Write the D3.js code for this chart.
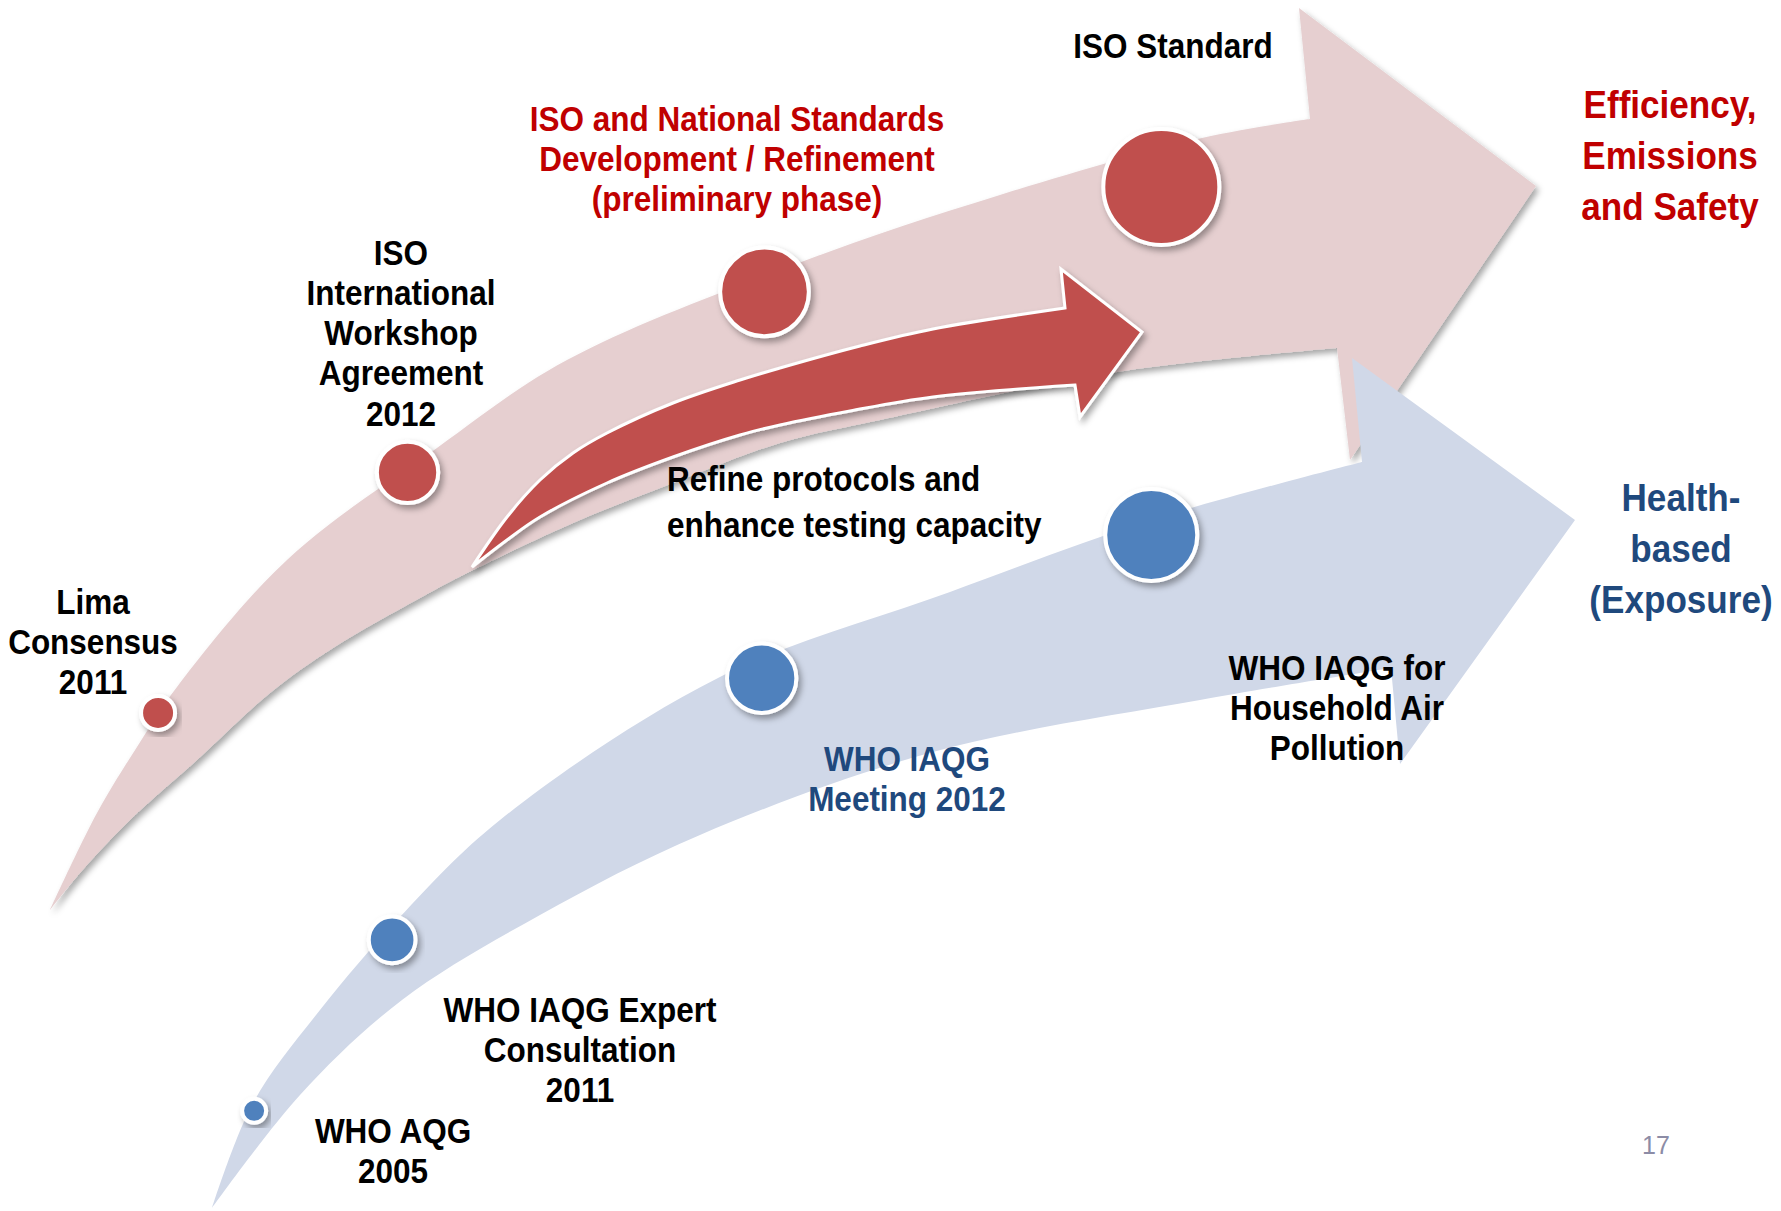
<!DOCTYPE html>
<html>
<head>
<meta charset="utf-8">
<script src="https://cdn.jsdelivr.net/npm/d3@7"></script>
<style>
  body { margin: 0; background: #fff; }
  svg text { font-family: "Liberation Sans", Arial, sans-serif; font-weight: bold; }
</style>
</head>
<body>
<div id="chart"></div>
<script>
var svgWidth = 1781;
var svgHeight = 1211;

// stove standards track (red)
var redLabels = [
  ["Lima", "Consensus", "2011"],
  ["ISO", "International", "Workshop", "Agreement", "2012"],
  ["ISO and National Standards", "Development / Refinement", "(preliminary phase)"],
  ["ISO Standard"]
];
var redStage = [1, 2, 3, 4];
var redProgress = [0.127, 0.360, 0.629, 0.905];

// health guidelines track (blue)
var blueLabels = [
  ["WHO AQG", "2005"],
  ["WHO IAQG Expert", "Consultation", "2011"],
  ["WHO IAQG", "Meeting 2012"],
  ["WHO IAQG for", "Household Air", "Pollution"]
];
var blueStage = [1, 2, 3, 4];
var blueProgress = [0.040, 0.203, 0.539, 0.847];

var outcomeLabels = [["Efficiency,", "Emissions", "and Safety"], ["Health-", "based", "(Exposure)"]];
var innerLabel = ["Refine protocols and", "enhance testing capacity"];
var pageNumber = "17";

// ---- layout (design units = reference pixels) ----
var x = d3.scaleLinear().domain([0, 1781]).range([0, svgWidth]);
var y = d3.scaleLinear().domain([0, 1211]).range([0, svgHeight]);

var pinkArrow = {
  upper: [[50, 910], [97, 813], [137, 747], [177, 687], [287, 560], [437, 448], [567, 360], [804, 261], [1000, 195], [1202, 138], [1310, 119]],
  head: [[1299, 8], [1536, 186], [1350, 460]],
  lower: [[1337, 348], [1117, 372], [880, 420], [780, 443], [673, 483], [573, 523], [467, 573], [420, 598], [333, 648], [270, 693], [197, 760], [130, 820], [80, 873], [50, 910]]
};
var redArrow = {
  upper: [[472, 567], [507, 517], [540, 480], [573, 453], [607, 433], [673, 403], [740, 380], [780, 368], [860, 346], [933, 329], [1065, 308]],
  head: [[1061, 269], [1142, 332], [1080, 417]],
  lower: [[1075, 385], [933, 397], [850, 411], [780, 425], [740, 435], [673, 457], [607, 483], [540, 517], [507, 540], [472, 567]]
};
var blueArrow = {
  upper: [[212, 1208], [253, 1103], [320, 1010], [400, 917], [500, 820], [718, 678], [950, 592], [1151, 520], [1362, 462]],
  head: [[1352, 358], [1575, 520], [1400, 764]],
  lower: [[1391, 668], [1200, 700], [933, 752], [700, 835], [540, 915], [402, 1000], [300, 1095], [212, 1208]]
};
var redRail = [[70, 880], [158, 713], [408, 472], [764, 292], [1161, 187], [1300, 160]];
var blueRail = [[232, 1160], [254, 1111], [392, 940], [762, 678], [1151, 535], [1350, 480]];

var redLabelPos = [[93, 601, "#000"], [401, 252, "#000"], [737, 118, "#C00000"], [1173, 45, "#000"]];
var blueLabelPos = [[393, 1130, "#000"], [580, 1009, "#000"], [907, 758, "#1F497D"], [1337, 667, "#000"]];

var redRadius = d3.scaleLinear().domain([1, 4]).range([17, 58]);
var blueRadius = d3.scaleLinear().domain([1, 4]).range([12, 46]);

var svg = d3.select("#chart")
  .append("svg")
  .attr("width", svgWidth)
  .attr("height", svgHeight);

var defs = svg.append("defs");
var shadow = defs.append("filter").attr("id", "shadow")
  .attr("x", "-20%").attr("y", "-20%").attr("width", "140%").attr("height", "140%");
shadow.append("feDropShadow")
  .attr("dx", 3).attr("dy", 4).attr("stdDeviation", 3)
  .attr("flood-color", "#000").attr("flood-opacity", 0.35);

var curve = d3.line()
  .x(d => x(d[0]))
  .y(d => y(d[1]))
  .curve(d3.curveCatmullRom.alpha(0.5));

function arrowPath(a) {
  var head = a.head.map(p => "L" + x(p[0]) + "," + y(p[1])).join("");
  return curve(a.upper) + head + curve(a.lower).replace(/^M/, "L") + "Z";
}

// pink first, blue head overlaps it, then the inner red arrow
svg.append("path").attr("d", arrowPath(pinkArrow)).attr("fill", "#E6CFD0").attr("filter", "url(#shadow)");
svg.append("path").attr("d", arrowPath(blueArrow)).attr("fill", "#D0D8E8");
svg.append("path").attr("d", arrowPath(redArrow))
  .attr("fill", "#C0504D")
  .attr("stroke", "#fff")
  .attr("stroke-width", 3)
  .attr("filter", "url(#shadow)");

// milestones placed along invisible rails
function drawTrack(rail, progress, stage, rScale, fill) {
  var railPath = svg.append("path")
    .attr("d", d3.line().x(d => x(d[0])).y(d => y(d[1]))(rail))
    .attr("fill", "none").attr("stroke", "none");
  var len = railPath.node().getTotalLength();
  var pts = progress.map(t => railPath.node().getPointAtLength(t * len));
  svg.append("g").selectAll("circle")
    .data(stage)
    .enter()
    .append("circle")
    .attr("cx", (d, i) => pts[i].x)
    .attr("cy", (d, i) => pts[i].y)
    .attr("r", d => rScale(d))
    .attr("fill", fill)
    .attr("stroke", "#fff")
    .attr("stroke-width", 4)
    .attr("filter", "url(#shadow)");
}
drawTrack(redRail, redProgress, redStage, redRadius, "#C0504D");
drawTrack(blueRail, blueProgress, blueStage, blueRadius, "#4F81BD");

// text squeezed horizontally to get a Calibri-like width
function textBlock(lines, cx, cy, size, gap, color, anchor) {
  var t = svg.append("text")
    .attr("text-anchor", anchor || "middle")
    .attr("transform", `translate(${x(cx)},0) scale(0.9,1)`)
    .style("font-size", size + "px")
    .style("fill", color);
  t.selectAll("tspan")
    .data(lines)
    .enter()
    .append("tspan")
    .attr("x", 0)
    .attr("y", (d, i) => y(cy + i * gap))
    .attr("dy", "0.36em")
    .text(d => d);
}

redLabels.forEach((lines, i) => textBlock(lines, redLabelPos[i][0], redLabelPos[i][1], 35, 40.3, redLabelPos[i][2]));
blueLabels.forEach((lines, i) => textBlock(lines, blueLabelPos[i][0], blueLabelPos[i][1], 35, 40.3, blueLabelPos[i][2]));
textBlock(innerLabel, 667, 478, 35, 46, "#000", "start");
textBlock(outcomeLabels[0], 1670, 104, 39, 51, "#C00000");
textBlock(outcomeLabels[1], 1681, 497, 39, 51, "#1F497D");

svg.append("text")
  .attr("x", x(1656)).attr("y", y(1145)).attr("dy", "0.35em")
  .attr("text-anchor", "middle")
  .style("font-weight", "normal")
  .style("font-size", "25px")
  .style("fill", "#8C8CA6")
  .text(pageNumber);
</script>
</body>
</html>
